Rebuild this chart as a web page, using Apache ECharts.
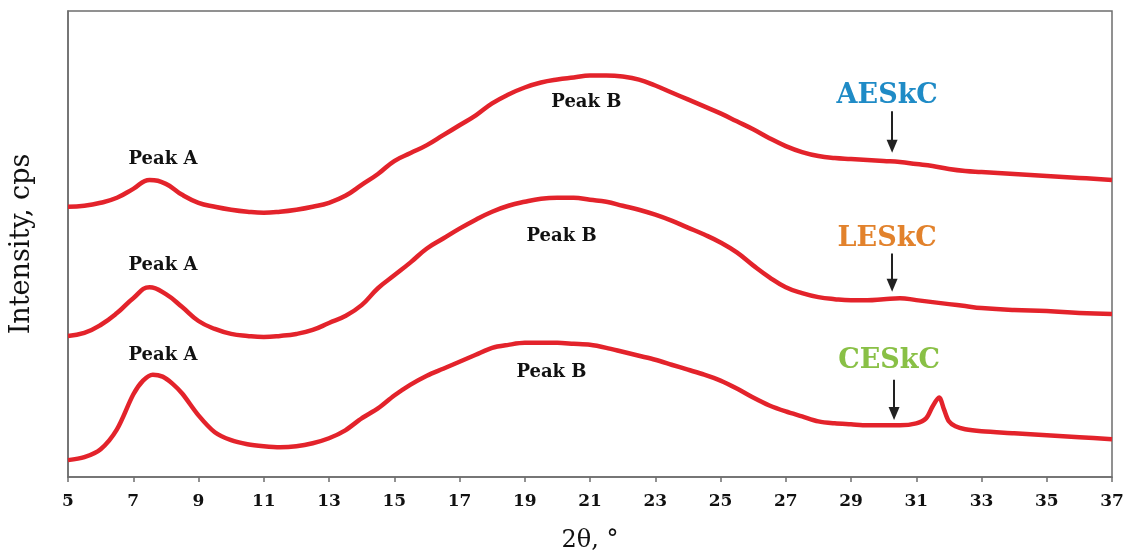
<!DOCTYPE html>
<html>
<head>
<meta charset="utf-8">
<script src="https://cdn.jsdelivr.net/npm/echarts@6/dist/echarts.min.js"></script>
<style>
html,body{margin:0;padding:0;background:#fff;}
#chart{width:1130px;height:558px;}
</style>
</head>
<body>
<div id="chart"></div>
<script>
// 2θ positions (degrees)
const twoTheta = [5,5.5,6,6.5,7,7.5,8,8.5,9,9.5,10,10.5,11,11.5,12,12.5,13,13.5,14,14.5,15,15.5,16,16.5,17,17.5,18,18.5,19,19.5,20,20.5,21,21.5,22,22.5,23,23.5,24,24.5,25,25.5,26,26.5,27,27.5,28,28.5,29,29.5,30,30.5,31,31.5,32,32.5,33,34,35,36,37];
// Intensity (arbitrary units, stacked offsets)
const aeskc = [272,273,276,281,290,299,295,284,276,272,269,267,266,267,269,272,276,283,294,305,318,326,334,344,354,364,376,385,392,397,400,402,404,404,403,400,394,387,380,373,366,358,350,341,333,327,323,321,320,319,318,317,315,313,310,308,307,305,303,301,299];
const leskc = [142,145,153,165,180,191,184,171,157,149,144,142,141,142,144,148,155,162,173,190,203,216,230,240,250,259,267,273,277,280,281,281,279,277,273,269,264,258,251,244,236,226,213,201,191,185,181,179,178,178,179,180,178,176,174,172,170,168,167,165,164];
// CESkC has a sharp reflection near 31.7°, so it uses its own 2θ grid
const twoThetaC = [5,5.5,6,6.5,7,7.3,7.6,7.9,8.2,8.5,9,9.5,10,10.5,11,11.5,12,12.5,13,13.5,14,14.5,15,15.5,16,16.5,17,17.5,18,18.5,19,19.5,20,20.5,21,21.5,22,22.5,23,23.5,24,24.5,25,25.5,26,26.5,27,27.5,28,28.5,29,29.5,30,30.5,31,31.3,31.5,31.7,31.85,32,32.2,32.5,33,34,35,36,37];
const ceskc = [17,20,28,48,83,97,103,101,94,84,62,45,37,33,31,30,31,34,39,47,59,69,82,93,102,109,116,123,130,133,135,135,135,134,133,130,126,122,118,113,108,103,97,89,80,72,66,61,56,54,53,52,52,52,54,59,71,80,68,56,51,48,46,44,42,40,38];

const seriesNames = ['AESkC','LESkC','CESkC'];
const peakLabels = ['Peak A','Peak B'];

function pairs(xs, ys){ return xs.map((x,i)=>[x, ys[i]]); }

const chart = echarts.init(document.getElementById('chart'), null, {renderer:'canvas'});
const red = '#e3232b';
const serif = 'DejaVu Serif';
const lineStyle = {color:red, width:4.5};

function txt(t, v, text, color, size){
  return {value:[t, v], label:{show:true, formatter:text, color:color, opacity:1, fontSize:size, fontFamily:serif, fontWeight:'bold', position:'inside'}};
}

const option = {
  animation:false,
  backgroundColor:'#ffffff',
  grid:{left:67, right:18, top:11, bottom:78, show:true, borderColor:'#6e6e6e', borderWidth:1.5},
  xAxis:{
    type:'value', min:5, max:37, interval:2,
    name:'2θ, °', nameLocation:'middle', nameGap:52,
    nameTextStyle:{fontFamily:serif, fontSize:24, color:'#111'},
    axisLine:{show:true, lineStyle:{color:'#6e6e6e', width:1.5}},
    axisTick:{show:true, inside:false, length:5, lineStyle:{color:'#6e6e6e', width:1.5}},
    axisLabel:{fontFamily:serif, fontWeight:'bold', fontSize:17, color:'#111', margin:16},
    splitLine:{show:false}
  },
  yAxis:{
    type:'value', min:0, max:469,
    name:'Intensity, cps', nameLocation:'middle', nameGap:33,
    nameTextStyle:{fontFamily:serif, fontSize:27, color:'#111'},
    axisLine:{show:true, lineStyle:{color:'#6e6e6e', width:1.5}},
    axisTick:{show:false}, axisLabel:{show:false}, splitLine:{show:false}
  },
  series:[
    {name:seriesNames[0], type:'line', data:pairs(twoTheta, aeskc), showSymbol:false, smooth:0.45, lineStyle:lineStyle},
    {name:seriesNames[1], type:'line', data:pairs(twoTheta, leskc), showSymbol:false, smooth:0.45, lineStyle:lineStyle},
    {name:seriesNames[2], type:'line', data:pairs(twoThetaC, ceskc), showSymbol:false, smooth:0.3, lineStyle:lineStyle},
    {
      type:'scatter', symbolSize:0, silent:true, itemStyle:{opacity:1},
      data:[
        txt(7.91, 320, peakLabels[0], '#111', 18),
        txt(7.91, 213, peakLabels[0], '#111', 18),
        txt(7.91, 122, peakLabels[0], '#111', 18),
        txt(20.89, 377, peakLabels[1], '#111', 18),
        txt(20.13, 242, peakLabels[1], '#111', 18),
        txt(19.82, 105, peakLabels[1], '#111', 18),
        txt(30.11, 383, seriesNames[0], '#1f8bc6', 27),
        txt(30.11, 240, seriesNames[1], '#e2822c', 27),
        txt(30.17, 117, seriesNames[2], '#89c046', 27)
      ],
      markLine:{
        silent:true, symbol:['none','triangle'], symbolSize:[11,13],
        label:{show:false},
        lineStyle:{color:'#222', width:2, type:'solid', opacity:1},
        data:[
          [{coord:[30.26, 368]},{coord:[30.26, 333]}],
          [{coord:[30.26, 225]},{coord:[30.26, 193]}],
          [{coord:[30.32, 98]},{coord:[30.32, 64]}]
        ]
      }
    }
  ]
};
chart.setOption(option);
</script>
</body>
</html>
